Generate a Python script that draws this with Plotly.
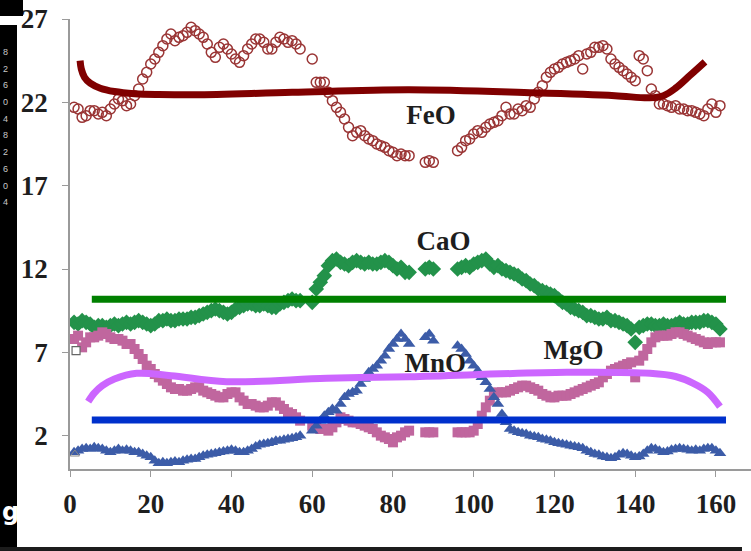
import plotly.graph_objects as go

# ---------------- data ----------------
x = list(range(1, 162))
GAP = None

feo = [21.7, 21.6, 21.1, 21.2, 21.5, 21.5, 21.3, 21.4, 21.2, 21.6,
       21.9, 22.2, 22.1, 21.8, 21.9, 22.4, 22.8, 23.4, 23.8, 24.3,
       24.6, 25.0, 25.4, 25.8, 26.1, 25.7, 25.9, 26.0, 26.2, 26.5,
       26.3, 26.1, 25.9, 25.5, 25.0, 24.7, 25.3, 25.5, 25.2, 24.9,
       24.6, 24.4, 24.8, 25.2, 25.5, 25.8, 25.8, 25.6, 25.2, 25.2,
       25.6, 25.9, 25.8, 25.6, 25.7, 25.5, 25.2, GAP, GAP, 24.6,
       23.2, 23.2, 23.2, 22.6, 22.1, 21.7, 21.4, 21.0, 20.5, 20.0,
       20.2, 20.3, 20.0, 19.8, 19.7, 19.5, 19.4, 19.3, 19.1, 19.0,
       18.8, 18.9, 18.8, 18.8, GAP, GAP, GAP, 18.4, 18.5, 18.4,
       GAP, GAP, GAP, GAP, GAP, 19.1, 19.3, 19.7, 19.8, 20.1,
       20.3, 20.2, 20.5, 20.7, 20.8, 20.9, 21.2, 21.7, 21.3, 21.3,
       21.6, 21.5, 21.8, 21.7, 22.2, 22.6, 23.0, 23.5, 23.8, 24.0,
       24.1, 24.3, 24.4, 24.5, 24.6, 24.8, 24.0, 24.9, 25.0, 25.3,
       25.3, 25.4, 25.2, 24.6, 24.3, 24.1, 23.9, 23.7, 23.5, 23.3,
       24.8, 24.6, 23.9, 22.8, 22.4, 21.9, 21.9, 21.8, 21.7, 21.8,
       21.6, 21.6, 21.5, 21.5, 21.4, 21.3, 21.2, 21.6, 21.9, 21.4,
       21.8]

cao = [8.8, 8.7, 8.9, 8.8, 8.7, 8.5, 8.6, 8.6, 8.5, 8.6,
       8.7, 8.6, 8.7, 8.8, 8.7, 8.8, 8.9, 8.8, 8.7, 8.6,
       8.7, 8.9, 8.9, 9.0, 8.9, 8.9, 9.0, 9.0, 9.0, 9.1,
       9.1, 9.2, 9.3, 9.4, 9.5, 9.6, 9.5, 9.4, 9.3, 9.4,
       9.6, 9.7, 9.8, 9.9, 9.9, 9.8, 9.8, 9.9, 9.8, 9.7,
       9.7, 9.9, 10.0, 10.1, 10.2, 10.1, 10.1, GAP, GAP, 10.0,
       10.8, 11.2, 11.6, 12.2, 12.5, 12.6, 12.4, 12.3, 12.2, 12.4,
       12.5, 12.4, 12.3, 12.4, 12.3, 12.3, 12.4, 12.5, 12.4, 12.2,
       12.0, 12.1, 11.8, 11.8, GAP, GAP, GAP, 12.0, 12.1, 12.0,
       GAP, GAP, GAP, GAP, GAP, 12.0, 12.1, 12.2, 12.1, 12.3,
       12.4, 12.5, 12.6, 12.3, 12.1, 12.2, 12.0, 11.9, 11.8, 11.7,
       11.6, 11.4, 11.3, 11.1, 11.0, 10.8, 10.7, 10.6, 10.5, 10.4,
       10.2, 10.0, 9.9, 9.7, 9.6, 9.5, 9.4, 9.2, 9.2, 9.1,
       9.0, 9.0, 9.1, 8.9, 8.9, 8.8, 8.7, 8.6, 8.4, 7.6,
       8.5, 8.6, 8.7, 8.7, 8.6, 8.6, 8.7, 8.6, 8.6, 8.7,
       8.8, 8.7, 8.7, 8.8, 8.8, 8.8, 8.9, 8.9, 8.8, 8.7,
       8.4]

mgo = [7.8, 8.0, 7.3, 7.6, 7.9, 7.9, 8.0, 8.2, 8.1, 7.9,
       7.8, 7.8, 7.7, 7.5, 7.5, 7.2, 6.9, 6.6, 6.2, 6.0,
       5.7, 5.5, 5.3, 5.1, 4.9, 4.8, 4.8, 4.7, 4.7, 4.8,
       4.9, 4.9, 4.7, 4.6, 4.5, 4.4, 4.3, 4.3, 4.5, 4.6,
       4.6, 4.3, 4.1, 3.9, 3.9, 3.8, 3.7, 3.7, 3.8, 4.0,
       4.0, 3.8, 3.6, 3.4, 3.3, 3.1, 2.9, GAP, GAP, 2.6,
       2.5, 2.4, 2.4, 2.3, 2.5, 2.8, 3.1, 3.0, 2.9, 2.8,
       2.8, 2.7, 2.6, 2.5, 2.4, 2.2, 2.0, 1.9, 1.8, 1.6,
       1.9, 2.0, 2.2, 2.3, GAP, GAP, GAP, 2.2, 2.2, 2.2,
       GAP, GAP, GAP, GAP, GAP, 2.2, 2.2, 2.2, 2.2, 2.3,
       2.7, 3.2, 3.7, 4.1, 4.5, 4.6, 4.6, 4.6, 4.7, 4.8,
       4.9, 5.0, 5.0, 4.9, 4.8, 4.7, 4.5, 4.4, 4.3, 4.3,
       4.4, 4.4, 4.4, 4.5, 4.6, 4.7, 4.8, 4.9, 5.0, 5.1,
       5.2, 5.5, 5.7, 5.9, 6.0, 6.1, 6.2, 6.3, 6.4, 5.5,
       6.5, 6.8, 7.2, 7.6, 7.9, 8.0, 8.0, 8.0, 8.1, 8.2,
       8.2, 8.1, 8.0, 7.9, 7.8, 7.7, 7.6, 7.5, 7.6, 7.6,
       7.6]

mno = [1.0, 1.1, 1.2, 1.25, 1.2, 1.3, 1.25, 1.2, 1.1, 1.0,
       1.1, 1.2, 1.1, 1.15, 1.1, 1.0, 1.0, 0.9, 0.8, 0.7,
       0.5, 0.35, 0.4, 0.35, 0.4, 0.45, 0.4, 0.5, 0.55, 0.6,
       0.6, 0.7, 0.8, 0.85, 0.9, 0.95, 1.0, 1.05, 1.1, 1.15,
       1.1, 1.0, 1.0, 1.1, 1.2, 1.35, 1.45, 1.5, 1.55, 1.6,
       1.7, 1.7, 1.75, 1.8, 1.85, 1.9, 2.0, GAP, GAP, 2.3,
       2.6, 2.9, 3.2, 3.4, 3.6, 3.5, 3.9, 4.3, 4.5, 4.6,
       4.7, 5.1, 5.4, 5.8, 6.0, 6.2, 6.5, 6.8, 7.2, 7.5,
       7.8, 8.1, 7.8, 7.5, GAP, GAP, GAP, 7.9, 8.1, 7.7,
       GAP, GAP, GAP, GAP, GAP, 7.4, 7.2, 6.9, 6.5, 6.2,
       5.9, 5.5, 5.2, 4.8, 4.3, 3.9, 3.3, 2.8, 2.4, 2.3,
       2.2, 2.15, 2.1, 2.0, 1.95, 1.9, 1.8, 1.75, 1.7, 1.6,
       1.55, 1.5, 1.45, 1.4, 1.35, 1.3, 1.25, 1.1, 1.0, 0.9,
       0.85, 0.75, 0.7, 0.65, 0.7, 0.85, 0.95, 0.9, 0.8, 0.7,
       0.75, 0.9, 1.1, 1.25, 1.2, 1.1, 1.0, 1.05, 1.15, 1.2,
       1.25, 1.2, 1.15, 1.1, 1.15, 1.1, 1.2, 1.25, 1.25, 1.1,
       0.95]

# stray hollow markers at the left edge
hollow_sq_x = [1.5]
hollow_sq_y = [7.1]
hollow_tri_x = [1.2]
hollow_tri_y = [0.9]

# trend curves
fe_trend_x = [2.5, 2.8, 3.6, 5.0, 7.5, 11.0, 16.0, 22.0, 31.0, 55.0, 84.0, 115.0, 135.0, 143.6, 147.0, 150.0, 153.5, 157.3]
fe_trend_y = [24.5, 24.0, 23.5, 23.15, 22.85, 22.65, 22.52, 22.47, 22.45, 22.6, 22.75, 22.57, 22.4, 22.27, 22.4, 22.85, 23.6, 24.43]

mg_trend_x = [4.5, 6.0, 8.0, 11.0, 16.5, 25.0, 38.8, 63.6, 84.2, 123.0, 143.7, 150.0, 154.4, 158.0, 161.0]
mg_trend_y = [4.04, 4.55, 5.0, 5.4, 5.74, 5.6, 5.24, 5.44, 5.54, 5.8, 5.74, 5.55, 5.14, 4.6, 3.74]

ca_mean_x = [5.4, 162.5]
ca_mean_y = [10.18, 10.18]
mn_mean_x = [5.4, 162.5]
mn_mean_y = [2.94, 2.94]

x_ticks = [0, 20, 40, 60, 80, 100, 120, 140, 160]
y_ticks = [2, 7, 12, 17, 22, 27]

labels = ["FeO", "CaO", "MgO", "MnO"]
label_x = [89.4, 92.5, 124.7, 90.5]
label_y = [21.12, 13.56, 7.02, 6.24]

# side-text fragments visible in the left strip
strip_digits = ["8", "2", "6", "0", "4", "8", "2", "6", "0", "4"]
strip_letter = "g"

# ---------------- figure ----------------
W, H = 751, 551
ML, MR, MT, MB = 70, 0, 19, 82
PW, PH = W - ML - MR, H - MT - MB

def px(xp):
    return (xp - ML) / PW

def py(yp):
    return (H - MB - yp) / PH

fig = go.Figure()

fig.add_trace(go.Scatter(x=x, y=feo, mode="markers",
                         marker=dict(symbol="circle-open", size=10, color="#9a3535",
                                     line=dict(width=1.5, color="#9a3535"))))
fig.add_trace(go.Scatter(x=x, y=cao, mode="markers",
                         marker=dict(symbol="diamond", size=12, color="#23924a",
                                     line=dict(width=0))))
fig.add_trace(go.Scatter(x=x, y=mgo, mode="markers",
                         marker=dict(symbol="square", size=10, color="#c0669e",
                                     line=dict(width=0))))
fig.add_trace(go.Scatter(x=x, y=mno, mode="markers",
                         marker=dict(symbol="triangle-up", size=11, color="#3c5ca8",
                                     line=dict(width=0))))
fig.add_trace(go.Scatter(x=hollow_sq_x, y=hollow_sq_y, mode="markers",
                         marker=dict(symbol="square", size=8, color="white",
                                     line=dict(width=1.2, color="#666666"))))
fig.add_trace(go.Scatter(x=hollow_tri_x, y=hollow_tri_y, mode="markers",
                         marker=dict(symbol="triangle-up-open", size=8, color="#888888",
                                     line=dict(width=1))))

fig.add_trace(go.Scatter(x=label_x, y=label_y, mode="text", text=labels,
                         textposition="middle center",
                         textfont=dict(family="Liberation Serif", size=27,
                                       color="#1e1e1e", weight="bold")))

fig.add_trace(go.Scatter(x=ca_mean_x, y=ca_mean_y, mode="lines",
                         line=dict(color="#008000", width=7)))
fig.add_trace(go.Scatter(x=mn_mean_x, y=mn_mean_y, mode="lines",
                         line=dict(color="#0030cc", width=7)))
fig.add_trace(go.Scatter(x=mg_trend_x, y=mg_trend_y, mode="lines",
                         line=dict(color="#cc66ff", width=7, shape="spline", smoothing=1.0)))
fig.add_trace(go.Scatter(x=fe_trend_x, y=fe_trend_y, mode="lines",
                         line=dict(color="#800000", width=7, shape="spline", smoothing=1.0)))

shapes = [
    dict(type="rect", xref="paper", yref="paper", x0=px(0), x1=px(23), y0=py(16), y1=py(-2),
         fillcolor="black", line=dict(width=0)),
    dict(type="rect", xref="paper", yref="paper", x0=px(-2), x1=px(17), y0=py(547), y1=py(25),
         fillcolor="black", line=dict(width=0)),
    dict(type="rect", xref="paper", yref="paper", x0=px(-2), x1=px(742), y0=py(553), y1=py(547),
         fillcolor="#1c1c1c", line=dict(width=0)),
]

annotations = []
for i, d in enumerate(strip_digits):
    annotations.append(dict(xref="paper", yref="paper", x=px(1), y=py(52 + i * 16.7),
                            xanchor="left", yanchor="middle", text=d, showarrow=False,
                            font=dict(family="Liberation Sans", size=9, color="#c8c8c8")))
annotations.append(dict(xref="paper", yref="paper", x=px(0), y=py(512), xanchor="left",
                        yanchor="middle", text=strip_letter, showarrow=False,
                        font=dict(family="DejaVu Sans", size=24, color="white", weight="bold")))

fig.update_layout(
    width=W, height=H,
    margin=dict(l=ML, r=MR, t=MT, b=MB, pad=0),
    paper_bgcolor="white", plot_bgcolor="white",
    showlegend=False,
    shapes=shapes, annotations=annotations,
    xaxis=dict(range=[0, 0 + PW / 4.037], tickvals=x_ticks, ticktext=[str(v) for v in x_ticks],
               showgrid=False, zeroline=False, showline=True, linecolor="#9a9a9a", linewidth=1.5,
               ticks="outside", ticklen=6, tickwidth=1.3, tickcolor="#9a9a9a",
               ticklabelstandoff=4,
               tickfont=dict(family="Liberation Serif", size=27, color="#1e1e1e", weight="bold")),
    yaxis=dict(range=[0, 27], tickvals=y_ticks, ticktext=[str(v) for v in y_ticks],
               showgrid=False, zeroline=False, showline=True, linecolor="#9a9a9a", linewidth=1.5,
               ticks="outside", ticklen=6, tickwidth=1.3, tickcolor="#9a9a9a",
               ticklabelstandoff=9,
               tickfont=dict(family="Liberation Serif", size=27, color="#1e1e1e", weight="bold")),
)

fig.write_html("out.html")
